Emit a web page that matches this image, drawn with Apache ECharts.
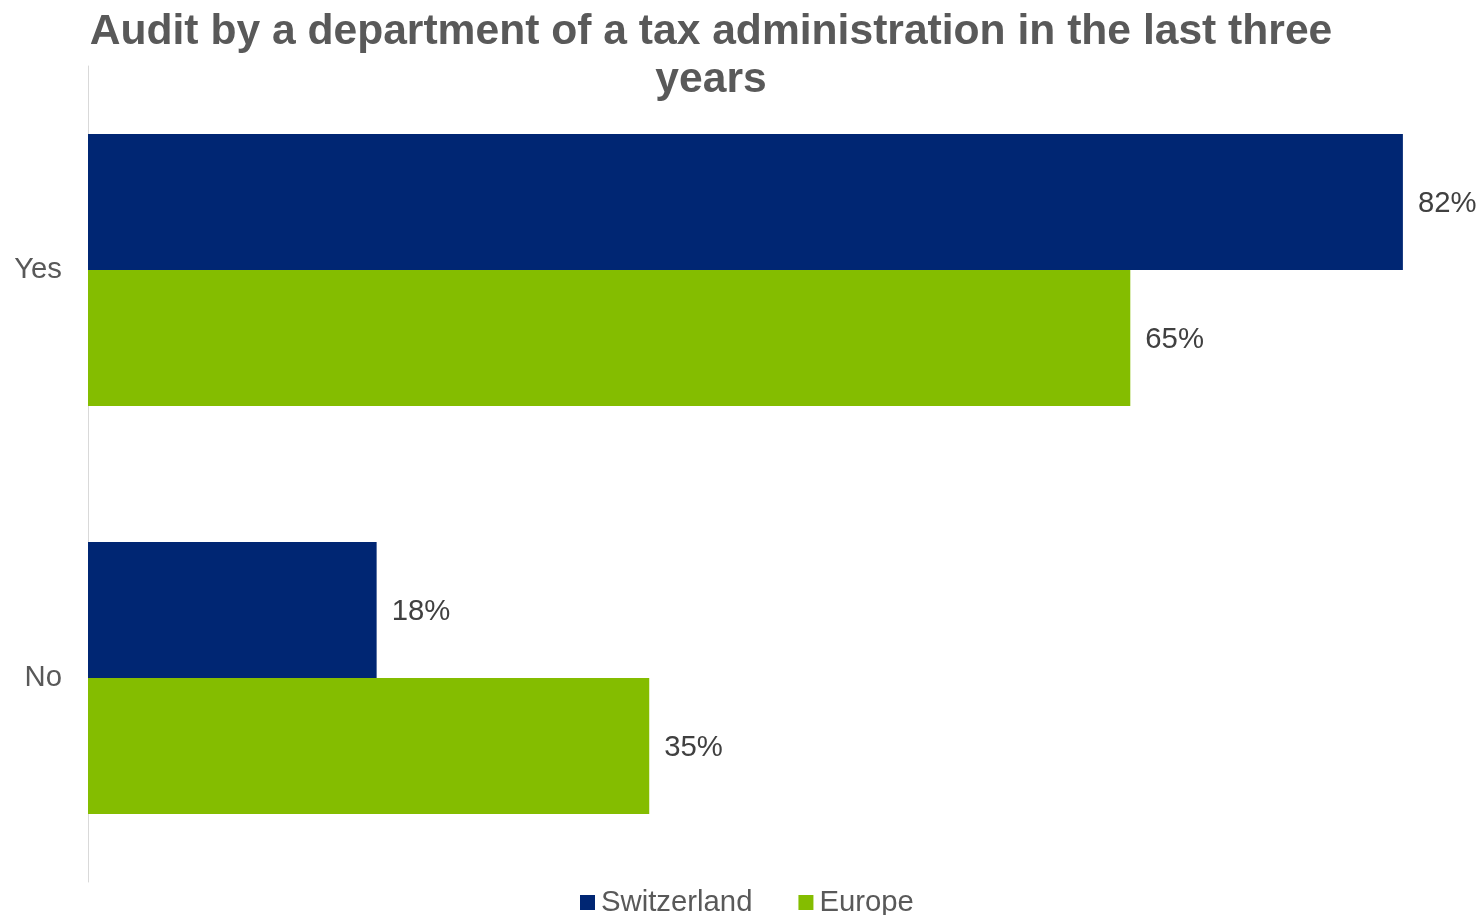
<!DOCTYPE html>
<html>
<head>
<meta charset="utf-8">
<title>Audit by a department of a tax administration in the last three years</title>
<script src="https://cdn.jsdelivr.net/npm/echarts@6/dist/echarts.min.js"></script>
<style>
  html, body { margin: 0; padding: 0; background: #ffffff; }
  #chart { width: 1479px; height: 915px; }
</style>
</head>
<body>
<div id="chart"></div>
<script>
// Survey answers (share of respondents, %)
const categories = ['Yes', 'No'];
const switzerland = [82, 18];
const europe = [65, 35];
const seriesNames = ['Switzerland', 'Europe'];

const chart = echarts.init(document.getElementById('chart'), null, { renderer: 'canvas' });

const FONT = 'Liberation Sans, Arial, sans-serif';

const labelStyle = {
  show: true,
  position: 'right',
  distance: 15,
  offset: [0, 2],
  formatter: '{c}%',
  fontFamily: FONT,
  fontSize: 29.3,
  color: '#404040'
};

chart.setOption({
  animation: false,
  backgroundColor: '#ffffff',
  title: {
    text: 'Audit by a department of a tax administration in the last three\nyears',
    left: 711,
    top: 8,
    padding: 0,
    textAlign: 'center',
    textStyle: {
      fontFamily: FONT,
      fontWeight: 'bold',
      fontSize: 42.6,
      lineHeight: 48,
      color: '#595959'
    }
  },
  legend: {
    data: seriesNames,
    bottom: -2,
    left: 580,
    padding: 0,
    itemWidth: 15,
    itemHeight: 15,
    itemGap: 46,
    icon: 'rect',
    textStyle: {
      fontFamily: FONT,
      fontSize: 29.3,
      color: '#595959',
      padding: [0, 0, 0, 1]
    }
  },
  grid: {
    left: 88,
    top: 66,
    width: 1363,
    height: 816,
    containLabel: false
  },
  xAxis: {
    type: 'value',
    min: 0,
    max: 85,
    show: false,
    splitLine: { show: false }
  },
  yAxis: {
    type: 'category',
    data: categories,
    inverse: true,
    axisLine: { show: true, lineStyle: { color: '#d9d9d9', width: 1 } },
    axisTick: { show: false },
    axisLabel: {
      margin: 26,
      fontFamily: FONT,
      fontSize: 29.3,
      color: '#595959'
    }
  },
  series: [
    {
      name: seriesNames[0],
      type: 'bar',
      data: switzerland,
      barGap: '0%',
      barCategoryGap: '33.3%',
      itemStyle: { color: '#002673' },
      label: labelStyle
    },
    {
      name: seriesNames[1],
      type: 'bar',
      data: europe,
      barGap: '0%',
      barCategoryGap: '33.3%',
      itemStyle: { color: '#84BD00' },
      label: labelStyle
    }
  ]
});
</script>
</body>
</html>
